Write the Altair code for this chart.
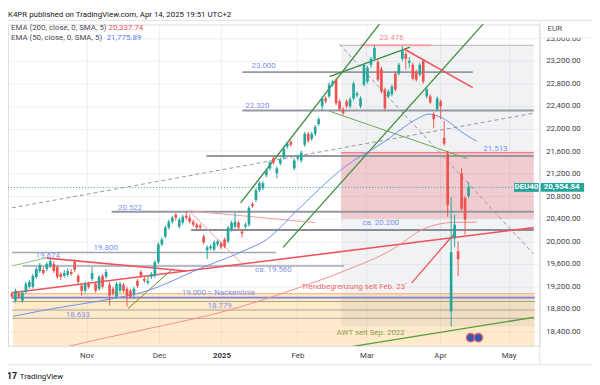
import altair as alt
import pandas as pd

FONT = "Roboto"

# ---------------- candle data (one bar per trading day, Oct 2024 .. Apr 14 2025)
opens = [19070, 18947, 19070, 18947, 19105, 19192, 19192, 19367, 19472, 19490,
         19507, 19560, 19595, 19542, 19420, 19385, 19402, 19455, 19630, 19385,
         19210, 19122, 19245, 19332, 19245, 19157, 19385, 19367, 19227, 19157,
         19017, 19122, 19227, 19157, 19122, 19070, 19297, 19455, 19332, 19262,
         19367, 19385, 19630, 19945, 20085, 20242, 20347, 20470, 20260, 20330,
         20452, 20417, 20347, 20295, 20277, 20085, 19840, 19875, 19857, 19945,
         19962, 20032, 19997, 20207, 20260, 20330, 20172, 20260, 20295, 20662,
         20732, 20907, 20942, 21170, 21292, 21467, 21205, 21380, 21485, 21677,
         21765, 21292, 21467, 21432, 21712, 21905, 21817, 21905, 22080, 22395,
         22535, 22570, 22780, 22867, 22482, 22342, 22482, 22395, 22535, 22587,
         22395, 22780, 22832, 23130, 23235, 23182, 23060, 22692, 22570, 22605,
         22972, 22972, 23235, 23322, 23165, 23130, 23007, 22955, 23200, 22570,
         22570, 22255, 22342, 22482, 21835, 21555, 18755, 20050, 19822, 21205,
         20767, 20802]
highs = [19105, 19157, 19105, 19122, 19280, 19315, 19420, 19542, 19612, 19542,
         19630, 19682, 19647, 19577, 19455, 19490, 19525, 19507, 19682, 19420,
         19245, 19280, 19280, 19542, 19280, 19402, 19420, 19507, 19280, 19192,
         19280, 19280, 19262, 19192, 19157, 19192, 19332, 19490, 19367, 19385,
         19455, 19665, 19980, 20067, 20277, 20382, 20452, 20505, 20417, 20470,
         20522, 20470, 20382, 20330, 20312, 20120, 19927, 19945, 20015, 20032,
         19997, 20067, 20277, 20365, 20505, 20365, 20207, 20330, 20627, 20697,
         20942, 21065, 21065, 21292, 21432, 21502, 21327, 21485, 21677, 21765,
         21800, 21467, 21537, 21607, 21940, 21940, 21940, 22062, 22202, 22570,
         22570, 22815, 22867, 22902, 22517, 22377, 22517, 22552, 22832, 22657,
         22570, 23165, 23112, 23270, 23476, 23217, 23095, 22727, 22692, 22780,
         23007, 23165, 23462, 23357, 23270, 23165, 23042, 23165, 23235, 22727,
         22605, 22290, 22570, 22517, 22132, 21607, 20785, 20470, 19997, 21292,
         20802, 21047]
lows = [18982, 18912, 18982, 18912, 19070, 19157, 19157, 19332, 19437, 19402,
        19472, 19525, 19437, 19332, 19315, 19350, 19367, 19385, 19455, 19245,
        19035, 19087, 19157, 19297, 19087, 19122, 19157, 19332, 18860, 19035,
        18982, 19087, 19087, 18842, 18982, 18982, 19175, 19350, 19262, 19227,
        19332, 19350, 19595, 19910, 20050, 20207, 20312, 20365, 20225, 20295,
        20382, 20312, 20260, 20207, 20207, 19945, 19682, 19840, 19822, 19910,
        19857, 19875, 19962, 20172, 20225, 20207, 20067, 20225, 20260, 20592,
        20697, 20872, 20907, 21135, 21257, 21362, 21117, 21345, 21450, 21642,
        21677, 21257, 21432, 21397, 21677, 21747, 21782, 21870, 22045, 22307,
        22447, 22535, 22745, 22412, 22307, 22237, 22360, 22360, 22500, 22552,
        22360, 22745, 22797, 23077, 23200, 22832, 22622, 22325, 22535, 22570,
        22657, 22937, 23200, 23042, 23077, 22850, 22832, 22920, 22797, 22535,
        22430, 22010, 22307, 22167, 21695, 20435, 18489, 19892, 19385, 20540,
        20120, 20767]
closes = [19017, 19122, 19017, 19087, 19245, 19280, 19385, 19507, 19577, 19437,
          19595, 19647, 19472, 19367, 19367, 19437, 19472, 19420, 19490, 19280,
          19122, 19245, 19192, 19437, 19122, 19367, 19192, 19455, 19035, 19070,
          19245, 19245, 19122, 19035, 19017, 19157, 19210, 19385, 19297, 19297,
          19420, 19630, 19945, 20032, 20242, 20347, 20417, 20417, 20382, 20435,
          20417, 20347, 20295, 20242, 20242, 19980, 19892, 19910, 19980, 19997,
          19892, 19910, 20242, 20330, 20347, 20242, 20137, 20295, 20592, 20627,
          20907, 21030, 21030, 21257, 21397, 21397, 21292, 21450, 21642, 21730,
          21712, 21432, 21502, 21572, 21905, 21782, 21905, 22027, 22167, 22535,
          22482, 22780, 22832, 22447, 22342, 22272, 22395, 22517, 22797, 22622,
          22535, 23130, 23077, 23235, 23427, 22867, 22657, 22360, 22657, 22745,
          22692, 23130, 23392, 23235, 23200, 22885, 22867, 23130, 22832, 22692,
          22465, 22167, 22535, 22395, 21730, 20645, 19805, 20295, 19682, 20575,
          20382, 20954.84]

# ---------------- axes: month ticks (bar index) and price ticks
month_pos = [21.4, 42.2, 60.1, 81.9, 101.7, 122.8, 142.5]
month_lbl = ["Nov", "Dec", "2025", "Feb", "Mar", "Apr", "May"]
price_ticks = [18400, 18800, 19200, 19600, 20000, 20400, 20800,
               21200, 21600, 22000, 22400, 22800, 23200, 23600]

# ---------------- moving averages (as drawn)
ema50_i = [0.3, 11.9, 25.8, 38.9, 53.6, 67.5, 73.1, 81.4, 95.3, 106.4, 116.7, 119.4, 125.0, 128.6, 133.3]
ema50_v = [18667, 18807, 18947, 19122, 19507, 19857, 20032, 20522, 21310, 21747, 22185, 22255, 22132, 21957, 21775.89]
ema200_i = [9.2, 16.7, 39.7, 61.9, 81.4, 95.3, 109.2, 118.3, 123.1, 127.2, 133.3]
ema200_v = [18020, 18142, 18457, 18772, 19157, 19472, 19857, 20225, 20312, 20337, 20337.74]

# ---------------- zones: x from, x to, price low, price high, colour, opacity
zone_x1 = [0.28, 94.4, 94.4]
zone_x2 = [150.0, 149.7, 149.7]
zone_lo = [18142.5, 18489, 20400]
zone_hi = [19070, 23476, 21572]
zone_col = ["#ff9800", "#787b86", "#f23645"]
zone_op = [0.2, 0.1, 0.2]

# ---------------- horizontal levels
lvl_p = [23476, 23476, 23000, 22320, 21572, 21513, 20522, 20200, 19800, 19560, 19070, 19000, 18930, 18779, 18633]
lvl_x1 = [94.4, 100.0, 66.1, 66.1, 94.4, 55.8, 28.6, 51.4, 0.0, 3.1, 0.0, 0.0, 0.0, 0.0, 0.0]
lvl_x2 = [149.7, 120.3, 132.2, 149.7, 149.7, 149.7, 149.7, 149.7, 75.8, 95.3, 150, 150, 150, 150, 150]
lvl_col = ["#b2b5be", "#f7a1a8", "#9598a1", "#9598a1", "#f27d87", "#9598a1", "#9598a1", "#8a8d96",
           "#a3a6af", "#a3a6af", "#f5b26b", "#7f7fe0", "#a8a86a", "#b0a999", "#b0a999"]
lvl_w = [1, 2, 2, 2, 1.5, 2, 2, 2.2, 1.5, 1.5, 1, 2, 1, 1, 1]

# ---------------- drawn trend lines (bar index / price)
tl_x1 = [65.6, 77.8, 91.1, 91.1, 81.4, 0.0, 33.3, 0.0, 10.0, 50.8, 50.8, 112.5, 114.7]
tl_p1 = [20680, 19892, 22920, 22307, 17972, 19560, 18807, 19087, 19700, 20540, 20540, 23410, 19262]
tl_x2 = [105.8, 136.1, 114.2, 130.6, 149.7, 10.6, 46.1, 149.7, 50.0, 66.7, 87.0, 132.2, 127.2]
tl_p2 = [23882, 23917, 23445, 21467, 18650, 19717, 19507, 20242, 19472, 19560, 20330, 22727, 20155]
tl_col = ["#3e8e3e", "#3e8e3e", "#3e8e3e", "#6aa84f", "#5a9a3a", "#8bbf7a", "#6b8e23",
          "#f0525c", "#f0525c", "#f39aa0", "#f39aa0", "#f0525c", "#f0525c"]
tl_w = [1.3, 1.3, 1.3, 1, 1.3, 1, 1, 1.6, 1.6, 1, 1, 1.5, 1.3]

dash_x1 = [0.0, 93.9]
dash_p1 = [20592, 23497]
dash_x2 = [149.7, 149.7]
dash_p2 = [22272, 19770]

# ---------------- annotation texts
ann_txt = ["23.476", "23.000", "22.320", "21.513", "20.522", "ca. 20.200", "19.800", "19.674",
           "ca. 19.560", "19.000 = Nackenlinie", "18.779", "18.633",
           "Trendbegrenzung seit Feb. 23´", "AWT seit Sep. 2022"]
ann_i = [108.9, 72.2, 70.4, 138.7, 33.9, 105.8, 26.9, 10.3, 75.0, 59.2, 59.6, 18.9, 98.3, 102.9]
ann_p = [23602, 23112, 22395, 21642, 20592, 20330, 19875, 19735, 19481, 19087, 18851, 18693, 19192, 18370]
ann_col = ["#f28b8b", "#7f8ff2", "#7f8ff2", "#7f8ff2", "#7f8ff2", "#7f8ff2", "#7f8ff2", "#7f8ff2",
           "#7f8ff2", "#7f8ff2", "#7f8ff2", "#7f8ff2", "#f06868", "#8f9e4a"]

last_price = 20954.84
ema200_last = "20,337.74"
ema50_last = "21,775.89"

# ---------------- layout
W, H = 539, 326
X_DOM = [0.28, 150.0]
Y_DOM = [18142.5, 23847.5]
xs = alt.Scale(domain=X_DOM, nice=False, zero=False)
ys = alt.Scale(domain=Y_DOM, nice=False, zero=False)


def ypix(p):
    return (Y_DOM[1] - p) / (Y_DOM[1] - Y_DOM[0]) * H


cuts = [(month_pos[k] + month_pos[k + 1]) / 2 for k in range(len(month_pos) - 1)]
expr = "'" + month_lbl[-1] + "'"
for k in range(len(cuts) - 1, -1, -1):
    expr = f"datum.value < {cuts[k]} ? '{month_lbl[k]}' : ({expr})"

x_axis = alt.Axis(values=month_pos, labelExpr=expr, title=None, ticks=False,
                  grid=True, gridColor="#f0f1f4", domain=True, domainColor="#e0e3eb",
                  labelFont=FONT, labelFontSize=8, labelColor="#3b3e47", labelPadding=6,
                  labelFontWeight={"condition": {"test": "datum.value > 55 && datum.value < 65",
                                                 "value": "bold"}, "value": "normal"})
y_axis = alt.Axis(values=price_ticks, orient="right", format=",.2f", title=None, ticks=False,
                  grid=True, gridColor="#f0f1f4", domain=True, domainColor="#e0e3eb",
                  labelFont=FONT, labelFontSize=8, labelColor="#3b3e47", labelPadding=6)


def X(f):
    return alt.X(f, scale=xs, axis=x_axis)


def Y(f):
    return alt.Y(f, scale=ys, axis=y_axis)


zones = pd.DataFrame({"x1": zone_x1, "x2": zone_x2, "lo": zone_lo, "hi": zone_hi,
                      "c": zone_col, "o": zone_op})
zone_layer = alt.Chart(zones).mark_rect(clip=True).encode(
    x=X("x1:Q"), x2="x2:Q", y=Y("lo:Q"), y2="hi:Q",
    color=alt.Color("c:N", scale=None),
    opacity=alt.Opacity("o:Q", scale=None),
)

segs = pd.DataFrame({
    "x1": lvl_x1 + tl_x1, "p1": lvl_p + tl_p1,
    "x2": lvl_x2 + tl_x2, "p2": lvl_p + tl_p2,
    "c": lvl_col + tl_col, "w": lvl_w + tl_w,
})
seg_layer = alt.Chart(segs).mark_rule(clip=True).encode(
    x=X("x1:Q"), x2="x2:Q", y=Y("p1:Q"), y2="p2:Q",
    color=alt.Color("c:N", scale=None),
    strokeWidth=alt.StrokeWidth("w:Q", scale=None),
)

dashes = pd.DataFrame({"x1": dash_x1, "p1": dash_p1, "x2": dash_x2, "p2": dash_p2})
dash_layer = alt.Chart(dashes).mark_rule(clip=True, strokeDash=[4, 3], color="#9598a1",
                                         strokeWidth=1).encode(
    x=X("x1:Q"), x2="x2:Q", y=Y("p1:Q"), y2="p2:Q")

last_line = alt.Chart(pd.DataFrame({"p": [last_price]})).mark_rule(
    strokeDash=[1, 2], color="#26a69a", strokeWidth=1).encode(
    y=Y("p:Q"), x=alt.value(0), x2=alt.value(W))

ema50 = alt.Chart(pd.DataFrame({"i": ema50_i, "v": ema50_v})).mark_line(
    color="#6f8cf2", strokeWidth=1, interpolate="monotone", clip=True).encode(
    x=X("i:Q"), y=Y("v:Q"))
ema200 = alt.Chart(pd.DataFrame({"i": ema200_i, "v": ema200_v})).mark_line(
    color="#f28e8e", strokeWidth=1, interpolate="monotone", clip=True).encode(
    x=X("i:Q"), y=Y("v:Q"))

candles = pd.DataFrame({"i": list(range(len(opens))), "open": opens, "high": highs,
                        "low": lows, "close": closes})
ccol = alt.condition("datum.open <= datum.close", alt.value("#26a69a"), alt.value("#ef5350"))
wicks = alt.Chart(candles).mark_rule(strokeWidth=1).encode(
    x=X("i:Q"), y=Y("low:Q"), y2="high:Q", color=ccol)
bodies = alt.Chart(candles).mark_bar(size=2.7).encode(
    x=X("i:Q"), y=Y("open:Q"), y2="close:Q", color=ccol)

ann = pd.DataFrame({"t": ann_txt, "i": ann_i, "p": ann_p, "c": ann_col})
ann_layer = alt.Chart(ann).mark_text(font=FONT, fontSize=8, align="center",
                                     baseline="middle").encode(
    x=X("i:Q"), y=Y("p:Q"), text="t:N", color=alt.Color("c:N", scale=None))

flags = alt.Chart(pd.DataFrame({"i": [131.6, 133.8], "p": [18290, 18290]})).mark_point(
    shape="circle", filled=True, size=70, color="#2f58b5", stroke="#e35d6a",
    strokeWidth=1.5, opacity=1).encode(x=X("i:Q"), y=Y("p:Q"))

one = pd.DataFrame({"k": [0]})


def label(txt, px, py, color="#131722", size=8, align="left", weight="normal"):
    return alt.Chart(one).mark_text(text=txt, font=FONT, fontSize=size, color=color,
                                    align=align, baseline="middle", fontWeight=weight).encode(
        x=alt.value(px), y=alt.value(py))


def box(x1, x2, y1, y2, fill):
    return alt.Chart(one).mark_rect(fill=fill).encode(
        x=alt.value(x1), x2=alt.value(x2), y=alt.value(y1), y2=alt.value(y2))


def hline(x1, x2, y, color="#e0e3eb"):
    return alt.Chart(one).mark_rule(color=color, strokeWidth=1).encode(
        x=alt.value(x1), x2=alt.value(x2), y=alt.value(y))


def vline(x, y1, y2, color="#e0e3eb"):
    return alt.Chart(one).mark_rule(color=color, strokeWidth=1).encode(
        x=alt.value(x), y=alt.value(y1), y2=alt.value(y2))


yl = ypix(last_price)
overlays = [
    hline(0, 592, -4), hline(0, 592, 345), vline(W, -4, 345),
    label("K4PR published on TradingView.com, Apr 14, 2025 19:51 UTC+2", 0, -9),
    label("EMA (200, close, 0, SMA, 5)", 3, 4, color="#4a4d57"),
    label(ema200_last, 102, 4, color="#f0525c"),
    label("EMA (50, close, 0, SMA, 5)", 3, 14, color="#4a4d57"),
    label(ema50_last, 100, 14, color="#5b7cf0"),
    box(W + 1, 592, -3, 13.5, "#ffffff"),
    hline(W + 1, 592, 13.5, color="#eceef2"),
    label("EUR", W + 8, 5, color="#4a4d57"),
    box(W + 1, W + 45, yl - 4.5, yl + 4.5, "#26a69a"),
    label(f"{last_price:,.2f}", W + 4, yl, color="#ffffff", weight="bold"),
    box(W - 26, W - 1, yl - 4.5, yl + 4.5, "#26a69a"),
    label("DEU40", W - 13.5, yl, color="#ffffff", align="center", weight="bold"),
    label("17", -1, 357, color="#131722", size=9, weight="bold"),
    label("TradingView", 12, 357, color="#131722", size=8),
]

chart = alt.layer(zone_layer, dash_layer, seg_layer, last_line, ema200, ema50,
                  wicks, bodies, ann_layer, flags, *overlays).properties(
    width=W, height=H,
    padding={"left": 0, "top": 14, "right": 53, "bottom": 37},
    autosize=alt.AutoSizeParams(type="none"),
).configure_view(stroke=None).configure(background="#ffffff")

chart.save("out.html", embed_options={"renderer": "svg", "actions": False})
